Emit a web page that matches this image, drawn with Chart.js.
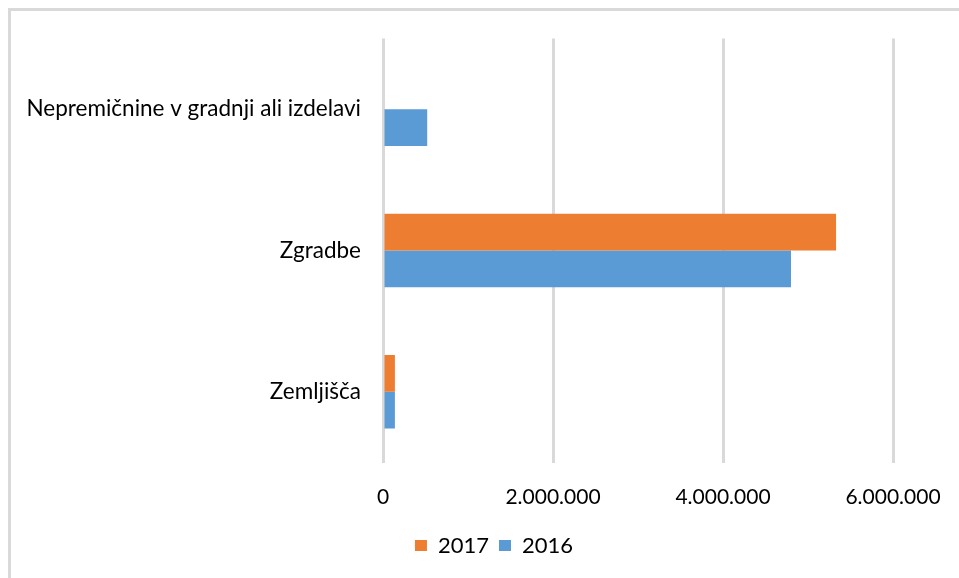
<!DOCTYPE html>
<html>
<head>
<meta charset="utf-8">
<script src="https://cdn.jsdelivr.net/npm/chart.js@4/dist/chart.umd.min.js"></script>
<style>
  html, body { margin: 0; padding: 0; background: #fff; overflow: hidden; width: 959px; height: 578px; }
  #frame { position: absolute; left: 8px; top: 8px; width: 1000px; height: 600px; border: 3px solid #d9d9d9; box-sizing: border-box; }
  #wrap { position: absolute; left: 0; top: 0; width: 988px; height: 578px; }
</style>
</head>
<body>
<div id="frame"></div>
<div id="wrap"><canvas id="c" width="988" height="578"></canvas></div>
<script>
const categories = ["Nepremičnine v gradnji ali izdelavi", "Zgradbe", "Zemljišča"];
const values2017 = [0, 5330000, 140000];
const values2016 = [520000, 4800000, 140000];
const seriesNames = ["2017", "2016"];
const xTicks = [0, 2000000, 4000000, 6000000];

const FONT = "Lato, 'Open Sans', sans-serif";
function fmt(v) { return String(v).replace(/\B(?=(\d{3})+(?!\d))/g, "."); }

new Chart(document.getElementById('c'), {
  type: 'bar',
  data: {
    labels: categories,
    datasets: [
      { label: seriesNames[0], data: values2017, backgroundColor: '#ED7D31', barPercentage: 1, categoryPercentage: 0.52 },
      { label: seriesNames[1], data: values2016, backgroundColor: '#5B9BD5', barPercentage: 1, categoryPercentage: 0.52 }
    ]
  },
  options: {
    indexAxis: 'y',
    responsive: false,
    animation: false,
    devicePixelRatio: 1,
    layout: { padding: { top: 38.5, right: 0, bottom: 11.5, left: 0 } },
    scales: {
      x: {
        min: 0, max: 6000000,
        afterBuildTicks: (s) => { s.ticks = xTicks.map(v => ({ value: v })); },
        afterFit: (s) => { s.height = 62; },
        grid: { color: '#d9d9d9', lineWidth: 3, drawTicks: false },
        border: { display: false },
        ticks: { padding: 22, color: '#000', font: { family: FONT, size: 21 }, callback: (v) => fmt(v) }
      },
      y: {
        afterFit: (s) => { s.width = 383; },
        grid: { display: false },
        border: { display: false },
        ticks: { padding: 14, color: '#000', font: { family: FONT, size: 22.5 } }
      },
      yRight: {
        type: 'linear',
        position: 'right',
        display: true,
        afterFit: (s) => { s.width = 95; },
        grid: { display: false },
        border: { display: false },
        ticks: { display: false }
      }
    },
    plugins: {
      legend: {
        position: 'bottom',
        labels: { boxWidth: 12, boxHeight: 11, padding: 10, color: '#000', font: { family: FONT, size: 22 } }
      },
      tooltip: { enabled: false }
    }
  }
});
</script>
</body>
</html>
